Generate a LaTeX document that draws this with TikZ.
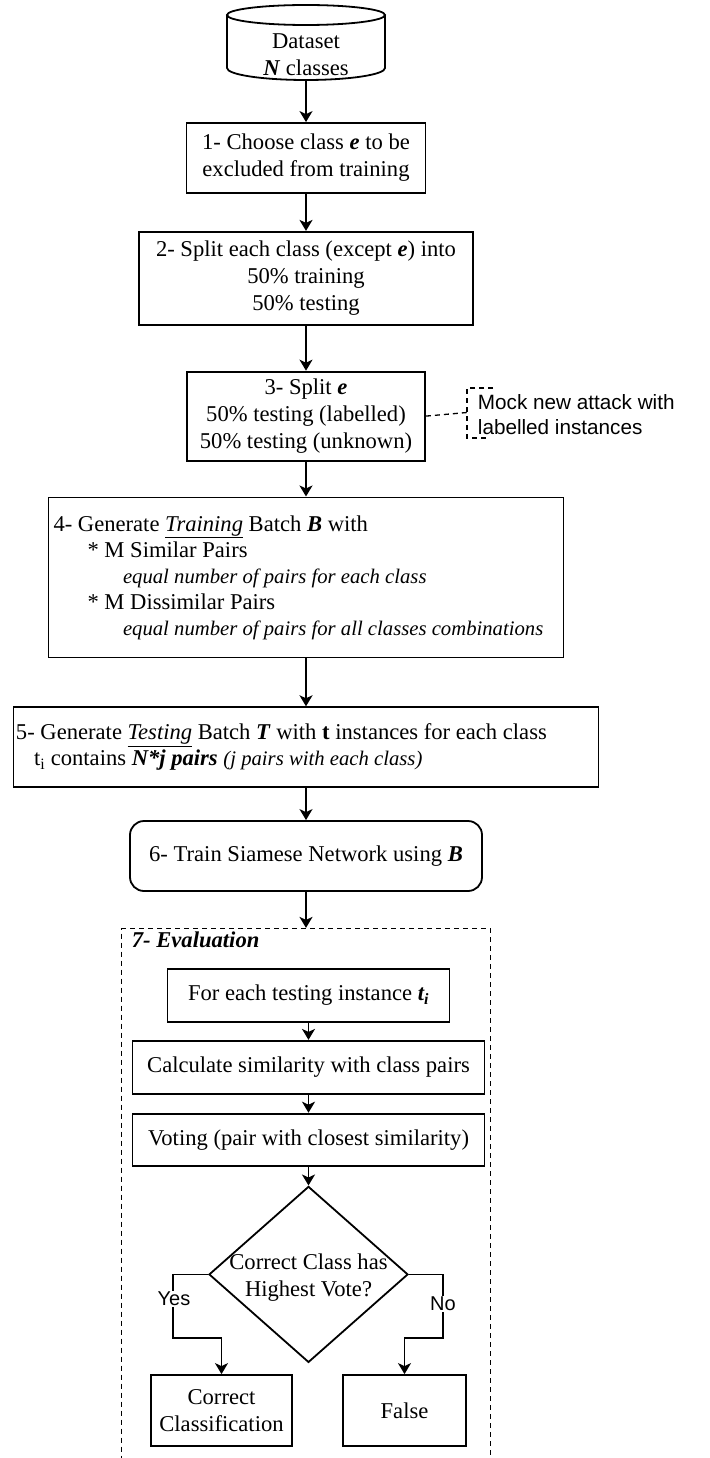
\documentclass[tikz,border=0pt]{standalone}
\usepackage{fontspec}
\setmainfont{Liberation Serif}
\setsansfont{Liberation Sans}
\usetikzlibrary{positioning,arrows.meta,shapes.geometric}
\newcommand{\bitext}[1]{\textbf{\textit{#1}}}
\newcommand{\remark}[1]{{\fontsize{20.7}{26}\selectfont\textit{#1}}}

\begin{document}
\begin{tikzpicture}[
                x=1pt, y=-1pt,
                font=\fontsize{22.6}{27}\selectfont,
                line width=1.8pt,
                box/.style={draw, align=center, inner sep=3pt},
                boxtext/.style={inner sep=0pt, align=left, anchor=west, font=\fontsize{22.6}{26}\selectfont},
                arrow/.style={-{Stealth[length=11pt,width=13pt,inset=3pt]}},
                note/.style={font=\sffamily\fontsize{20.7}{25.5}\selectfont, align=left, inner sep=0pt},
                lbl/.style={font=\sffamily\fontsize{20}{24}\selectfont, fill=white, inner sep=1pt}
            ]
                \fill[white] (0,0) rectangle (709,1458);
                \useasboundingbox (0,0) rectangle (709,1458);

                % Dataset cylinder
                \draw (306,15) ellipse[x radius=79, y radius=10];
                \draw (227,15) -- (227,68) arc[start angle=180, end angle=0, x radius=79, y radius=12] -- (385,15);
                \node[inner sep=0pt, align=center] (dataset) at (306,55) {Dataset\\\bitext{N} classes};
                \coordinate (dbout) at (306,80);

                % Preparation steps
                \node[box, minimum width=239pt, minimum height=70pt] (s1) at (306,158) {1- Choose class \bitext{e} to be\\excluded from training};
                \node[box, minimum width=334pt, minimum height=93pt, below=37pt of s1] (s2) {2- Split each class (except \bitext{e}) into\\50\% training\\50\% testing};
                \node[box, minimum width=238pt, minimum height=89pt, below=45pt of s2] (s3) {3- Split \bitext{e}\\50\% testing (labelled)\\50\% testing (unknown)};
                \node[box, minimum width=515pt, minimum height=160pt, below=35pt of s3] (s4) {};
                \node[boxtext] (s4txt) at ([xshift=5pt]s4.west) {4- Generate \underline{\textit{Training}} Batch \bitext{B} with\\
                    \hspace*{34pt}* M Similar Pairs\\
                    \hspace*{69.5pt}\remark{equal number of pairs for each class}\\
                    \hspace*{34pt}* M Dissimilar Pairs\\
                    \hspace*{69.5pt}\remark{equal number of pairs for all classes combinations}};
                \node[box, minimum width=585pt, minimum height=80pt, below=48pt of s4] (s5) {};
                \node[boxtext] (s5txt) at ([xshift=2.5pt]s5.west) {5- Generate \underline{\textit{Testing}} Batch \bitext{T} with \textbf{t} instances for each class\\
                    \hspace*{18pt}t\textsubscript{i} contains \bitext{N*j pairs} \remark{(j pairs with each class)}};
                \node[box, rounded corners=14pt, minimum width=352pt, minimum height=70pt, below=32pt of s5] (s6) {6- Train Siamese Network using \bitext{B}};

                \draw[arrow] (dbout) -- (s1);
                \draw[arrow] (s1) -- (s2);
                \draw[arrow] (s2) -- (s3);
                \draw[arrow] (s3) -- (s4);
                \draw[arrow] (s4) -- (s5);
                \draw[arrow] (s5) -- (s6);

                % Note on step 3
                \coordinate (brk) at (467,412.5);
                \draw[line width=1.3pt, dash pattern=on 5pt off 4pt] (s3.east) -- (brk);
                \draw[line width=1.3pt, dash pattern=on 5pt off 4pt] (493,388) -- (467,388) -- (467,438) -- (488,438);
                \node[note, anchor=west] (mock) at (477,414.5) {Mock new attack with\\labelled instances};

                % Evaluation
                \node[draw, line width=1.5pt, dash pattern=on 5pt off 4pt, minimum width=369pt, minimum height=580pt, below=36pt of s6] (evalbox) {};
                \draw[arrow] (s6) -- (evalbox);
                \node[inner sep=0pt, anchor=west] (evaltitle) at (131,940) {\bitext{7- Evaluation}};

                \node[box, minimum width=282pt, minimum height=53pt] (foreach) at (308.5,995.5) {For each testing instance \bitext{t\textsubscript{i}}};
                \node[box, minimum width=352pt, minimum height=53pt, below=17pt of foreach] (calc) {Calculate similarity with class pairs};
                \node[box, minimum width=352pt, minimum height=52pt, below=18pt of calc] (vote) {Voting (pair with closest similarity)};
                \node[draw, diamond, inner sep=0pt, minimum width=199pt, minimum height=176pt, below=19pt of vote] (decide) {};
                \node[align=center, inner sep=0pt, yshift=-3.5pt] (decidetxt) at (decide.center) {Correct Class has\\Highest Vote?};

                \draw[arrow] (foreach) -- (calc);
                \draw[arrow] (calc) -- (vote);
                \draw[arrow] (vote) -- (decide);

                % Outcomes
                \node[box, minimum width=141pt, minimum height=71pt] (correct) at (221.5,1410.5) {Correct\\Classification};
                \node[box, minimum width=123pt, minimum height=71pt] (false) at (404.5,1410.5) {False};

                \coordinate (yesdrop) at (173,1338);
                \coordinate (nodrop) at (443,1338);
                \draw[arrow] (decide.west) -| (yesdrop) -| (correct.north);
                \draw[arrow] (decide.east) -| (nodrop) -| (false.north);
                \node[lbl] (yes) at (174,1299) {Yes};
                \node[lbl] (no) at (443,1304) {No};
            \end{tikzpicture}
\end{document}
